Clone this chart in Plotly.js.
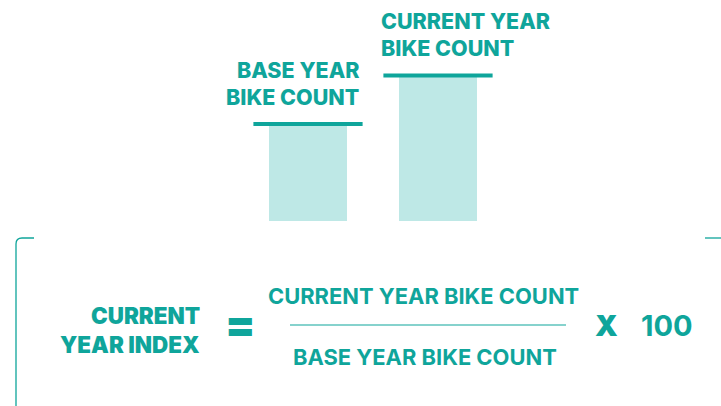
<!DOCTYPE html>
<html><head><meta charset="utf-8">
<script src="https://cdn.plot.ly/plotly-3.0.1.min.js"></script>
<style>html,body{margin:0;padding:0;background:#fff}#c{width:721px;height:406px}</style>
</head><body><div id="c"></div>
<script>
const categories = ["BASE YEAR BIKE COUNT", "CURRENT YEAR BIKE COUNT"];
const positions = [0, 1];
const values = [100, 150];
const labelLines = [["BASE YEAR", "BIKE COUNT"], ["CURRENT YEAR", "BIKE COUNT"]];
const formulaLeft = ["CURRENT", "YEAR INDEX"];
const numerator = "CURRENT YEAR BIKE COUNT";
const denominator = "BASE YEAR BIKE COUNT";
const multiplier = "100";

const TEAL = "#0fa59b";
const BARFILL = "#bee8e6";
const W = 721, H = 406;
const px = x => x / W;
const py = y => 1 - y / H;

const traces = [{
  type: "bar", x: positions, y: values, width: 0.6,
  marker: {color: BARFILL}, hoverinfo: "skip", showlegend: false
}];
positions.forEach((p, i) => {
  traces.push({
    type: "scatter", mode: "lines",
    x: [p - 0.42, p + 0.42], y: [values[i], values[i]],
    line: {color: TEAL, width: 4}, showlegend: false, hoverinfo: "skip"
  });
});

const font = (s, w) => ({family: "Inter, Roboto, sans-serif", size: s, color: TEAL, weight: w});
const ann = [];
// bar labels
ann.push({text: labelLines[0][0], x: px(361), y: py(70), xanchor: "right", yanchor: "middle", font: font(21.5, 800)});
ann.push({text: labelLines[0][1], x: px(361), y: py(97), xanchor: "right", yanchor: "middle", font: font(21.5, 800)});
ann.push({text: labelLines[1][0], x: px(379), y: py(21), xanchor: "left", yanchor: "middle", font: font(21.5, 800)});
ann.push({text: labelLines[1][1], x: px(379), y: py(48), xanchor: "left", yanchor: "middle", font: font(21.5, 800)});
// formula
ann.push({text: formulaLeft[0], x: px(202), y: py(315), xanchor: "right", yanchor: "middle", font: font(22.4, 900)});
ann.push({text: formulaLeft[1], x: px(202), y: py(344), xanchor: "right", yanchor: "middle", font: font(22.4, 900)});
ann.push({text: "=", x: px(240), y: py(324), xanchor: "center", yanchor: "middle", font: font(44, 900)});
ann.push({text: numerator, x: px(423), y: py(296), xanchor: "center", yanchor: "middle", font: font(21.9, 700)});
ann.push({text: denominator, x: px(425), y: py(357), xanchor: "center", yanchor: "middle", font: font(21.9, 700)});
ann.push({text: "X", x: px(606), y: py(325), xanchor: "center", yanchor: "middle", font: font(29, 900)});
ann.push({text: multiplier, x: px(667), y: py(325), xanchor: "center", yanchor: "middle", font: font(29, 700)});
ann.forEach(a => { a.xref = "paper"; a.yref = "paper"; a.showarrow = false; });

const shapes = [
  {type: "line", xref: "paper", yref: "paper", x0: px(290), x1: px(566), y0: py(325), y1: py(325), line: {color: TEAL, width: 1.2}},
  {type: "path", xref: "paper", yref: "paper",
   path: `M ${px(34)} ${py(238)} L ${px(22)} ${py(238)} Q ${px(16)} ${py(238)} ${px(16)} ${py(244)} L ${px(16)} ${py(406)}`,
   line: {color: TEAL, width: 1.3}},
  {type: "line", xref: "paper", yref: "paper", x0: px(705), x1: px(721), y0: py(238), y1: py(238), line: {color: TEAL, width: 1.3}}
];

// x: 0 -> 308px, 130px per unit; y: 0 -> 221px, 0.97 px per unit
const x0 = -308 / 130, x1 = x0 + W / 130;
const y1 = 221 / 0.97, y0 = -(H - 221) / 0.97;

Plotly.newPlot("c", traces, {
  width: W, height: H, margin: {l: 0, r: 0, t: 0, b: 0},
  paper_bgcolor: "#fff", plot_bgcolor: "#fff",
  xaxis: {range: [x0, x1], visible: false, fixedrange: true},
  yaxis: {range: [y0, y1], visible: false, fixedrange: true},
  annotations: ann, shapes: shapes, showlegend: false
}, {displayModeBar: false, staticPlot: true});
</script></body></html>
